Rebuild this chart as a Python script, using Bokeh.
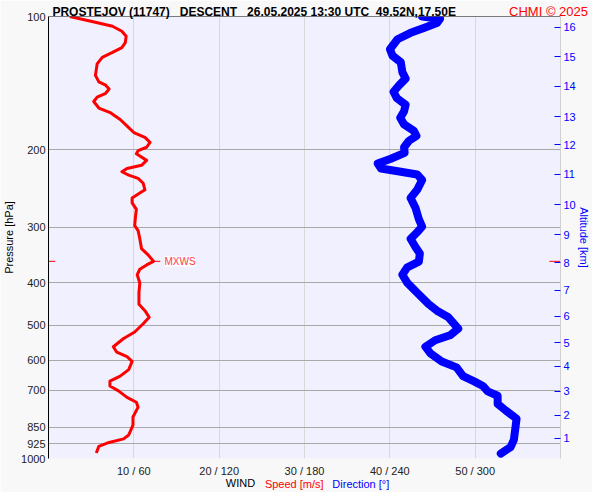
import numpy as np
from bokeh.plotting import figure
from bokeh.models import (Range1d, FixedTicker, LogAxis, LinearAxis, Label, Span,
                          PrintfTickFormatter)
from bokeh.embed import file_html
from bokeh.resources import INLINE

# ---------------- data ----------------
title_text = "PROSTEJOV (11747)\u00a0\u00a0 DESCENT\u00a0\u00a0 26.05.2025 13:30 UTC\u00a0 49.52N,17.50E"
credit_text = "CHMI \u00a9 2025"
foot_texts = ["WIND", "Speed [m/s]", "Direction [\u00b0]"]

p_levels = [100, 200, 300, 400, 500, 600, 700, 850, 925, 1000]
x_ticks = [10, 20, 30, 40, 50]
x_tick_labels = ["10 / 60", "20 / 120", "30 / 180", "40 / 240", "50 / 300"]
x_grid = [10, 20, 30, 40, 50, 60]

alt_km = [1, 2, 3, 4, 5, 6, 7, 8, 9, 10, 11, 12, 13, 14, 15, 16]
alt_hpa = [899.9, 798.5, 705.0, 618.6, 547.2, 476.8, 415.9, 360.6,
           312.0, 266.3, 227.3, 195.2, 168.4, 143.9, 123.3, 105.8]

speed_p = [100, 102.6, 105.2, 108.0, 110.8, 114.6, 117.6, 120.6, 123.7, 128.0,
           135.9, 140.6, 143.0, 145.9, 149.2, 152.2, 155.7, 161.1, 165.3, 171.0,
           178.4, 183.0, 187.7, 192.6, 197.6, 201.1, 204.5, 211.6, 217.1, 220.8,
           224.5, 228.5, 232.4, 238.4, 246.7, 250.9, 257.4, 264.0, 273.2, 282.6,
           297.4, 305.1, 318.4, 335.1, 346.6, 358.0, 364.8, 373.1, 383.9, 400.7,
           421.7, 447.5, 463.0, 479.2, 495.7, 517.4, 535.1, 558.6, 574.8, 588.0,
           603.1, 629.3, 651.2, 668.0, 685.3, 703.1, 727.2, 746.1, 765.3, 805.5,
           840.8, 884.8, 903.0, 919.8, 938.8, 971.4]
speed_ms = [2.5, 5.1, 7.5, 8.6, 9.1, 9.0, 8.6, 7.5, 6.3, 5.7,
            5.5, 5.9, 6.7, 7.1, 6.7, 5.7, 5.3, 5.9, 7.3, 8.4,
            9.4, 10.0, 11.3, 11.9, 11.5, 10.5, 10.3, 11.5, 10.9, 9.2,
            8.6, 9.4, 10.5, 11.1, 11.3, 10.7, 9.8, 9.8, 10.3, 10.2,
            10.1, 10.5, 10.7, 10.9, 11.7, 12.3, 11.5, 10.7, 10.4, 10.7,
            10.6, 10.6, 11.3, 11.8, 11.1, 10.1, 8.8, 7.6, 8.0, 9.2,
            9.8, 9.4, 8.4, 7.2, 7.2, 8.2, 9.2, 10.3, 10.5, 9.9,
            9.9, 9.4, 8.8, 7.1, 5.9, 5.6]

dir_p = [100, 101.2, 103.5, 106.2, 108.9, 112.6, 118.6, 122.7, 126.9, 133.6,
         138.2, 143.0, 148.0, 153.0, 158.4, 163.9, 169.5, 175.4, 181.5, 186.2,
         191.0, 197.6, 203.5, 209.8, 215.2, 220.8, 224.5, 227.7, 234.4, 246.7,
         257.4, 270.8, 287.5, 298.9, 307.7, 318.4, 332.2, 343.8, 358.7, 369.3,
         383.9, 400.7, 421.7, 447.5, 463.0, 479.2, 508.5, 526.3, 540.0, 558.6,
         577.7, 603.1, 622.0, 651.2, 669.9, 685.3, 705.1, 721.1, 752.5, 778.7,
         812.5, 847.6, 907.5, 942.2, 974.8]
dir_deg = [262.7, 275.3, 273.1, 263.9, 254.6, 245.4, 240.1, 241.9, 247.7, 248.8,
           251.1, 246.6, 242.6, 244.9, 251.1, 250.0, 247.3, 250.0, 256.9, 258.7,
           253.5, 250.0, 250.4, 240.7, 231.5, 233.8, 247.7, 259.2, 262.7, 259.2,
           254.6, 258.0, 260.4, 262.7, 259.2, 254.6, 258.0, 261.1, 260.4, 252.3,
           248.8, 252.3, 259.2, 267.3, 273.1, 281.2, 288.1, 282.3, 271.9, 265.0,
           268.4, 276.5, 286.9, 291.5, 299.6, 305.4, 308.8, 315.8, 315.8, 321.5,
           329.1, 328.4, 327.2, 324.9, 318.0]

FONT = "Liberation Sans"
RED = "#ff0000"
BLUE = "#0000ff"
OUTER = "#f8f8f8"

p = figure(width=592, height=492, y_axis_type="log",
           x_range=Range1d(0, 60), y_range=Range1d(1000, 100),
           output_backend="svg", toolbar_location=None, title=None,
           min_border_left=0, min_border_right=0,
           min_border_top=0, min_border_bottom=0,
           background_fill_color="#f0f0ff", border_fill_color=OUTER)
p.outline_line_color = None
p.extra_x_ranges = {"dir": Range1d(0, 360)}

p.ygrid.ticker = FixedTicker(ticks=p_levels)
p.ygrid.grid_line_color = "#a8a8a8"
p.xgrid.ticker = FixedTicker(ticks=x_grid)
p.xgrid.grid_line_color = "#d8d8d8"


def bare(axis, size="11px"):
    axis.axis_label = None
    axis.axis_line_color = None
    axis.major_tick_in = 0
    axis.major_tick_out = 0
    axis.minor_tick_in = 0
    axis.minor_tick_out = 0
    axis.major_label_text_font = FONT
    axis.major_label_text_font_size = size
    axis.axis_label_text_font = FONT
    axis.axis_label_text_font_size = size
    axis.axis_label_text_font_style = "normal"
    return axis


def text_axis(pos, text, color, standoff, size="11px", bold=False):
    ax = bare(LinearAxis(ticker=FixedTicker(ticks=[pos]),
                         major_label_overrides={pos: text}), size)
    ax.major_label_standoff = standoff
    ax.major_label_text_color = color
    ax.major_label_text_font_style = "bold" if bold else "normal"
    return ax


# left pressure axis
ya = bare(p.yaxis[0])
ya.ticker = FixedTicker(ticks=p_levels)
ya.formatter = PrintfTickFormatter(format="%d")
ya.axis_line_color = "black"
ya.major_label_standoff = 3
ya.major_label_text_color = "#222222"
ya.axis_label = "Pressure [hPa]"
ya.axis_label_standoff = 3
ya.axis_label_text_color = "black"

# bottom wind axis
xa = bare(p.xaxis[0])
xa.ticker = FixedTicker(ticks=x_ticks)
xa.major_label_overrides = {t: l for t, l in zip(x_ticks, x_tick_labels)}
xa.major_label_standoff = 6
xa.major_label_text_color = "#222222"

# bottom legend row (three single-label axes sharing one row)
foot_pos = [22.5, 28.8, 36.6]
foot_colors = ["black", RED, BLUE]
foot_standoff = [-3, -14, -15]
for pos, txt, col, so in zip(foot_pos, foot_texts, foot_colors, foot_standoff):
    p.add_layout(text_axis(pos, txt, col, so), "below")

# top title row (title and credit sharing one row)
p.add_layout(text_axis(24.1, title_text, "black", -2, size="12px", bold=True), "above")
p.add_layout(text_axis(58.6, credit_text, RED, -17, size="13px"), "above")

# right altitude axis
ra = bare(LogAxis(ticker=FixedTicker(ticks=alt_hpa),
                  major_label_overrides={h: str(k) for h, k in zip(alt_hpa, alt_km)}))
ra.axis_line_color = "#d0d0d0"
ra.major_tick_in = 6
ra.major_tick_line_color = BLUE
ra.major_label_standoff = 3
ra.major_label_text_color = BLUE
ra.axis_label = "Altitude [km]"
ra.axis_label_standoff = -1
ra.axis_label_text_color = BLUE
p.add_layout(ra, "right")

p.add_layout(Span(location=100, dimension="width", line_color="black", line_width=1))

p.line(speed_ms, speed_p, line_color=RED, line_width=3, line_join="round")
p.line(dir_deg, dir_p, x_range_name="dir", line_color=BLUE, line_width=8,
       line_join="round", line_cap="round")

imax = int(np.argmax(speed_ms))
pm = speed_p[imax]
sm = speed_ms[imax]
p.segment(x0=[sm, 0, 58.7], x1=[sm + 0.8, 0.8, 60], y0=[pm, pm, pm], y1=[pm, pm, pm],
          line_color=RED, line_width=1)
p.add_layout(Label(x=sm, y=pm, x_offset=11, text="MXWS", text_color="#ff4040",
                   text_font=FONT, text_font_size="10px", text_baseline="middle",
                   background_fill_color="#ffffff", background_fill_alpha=0.8))

open("out.html", "w").write(file_html(p, INLINE))
